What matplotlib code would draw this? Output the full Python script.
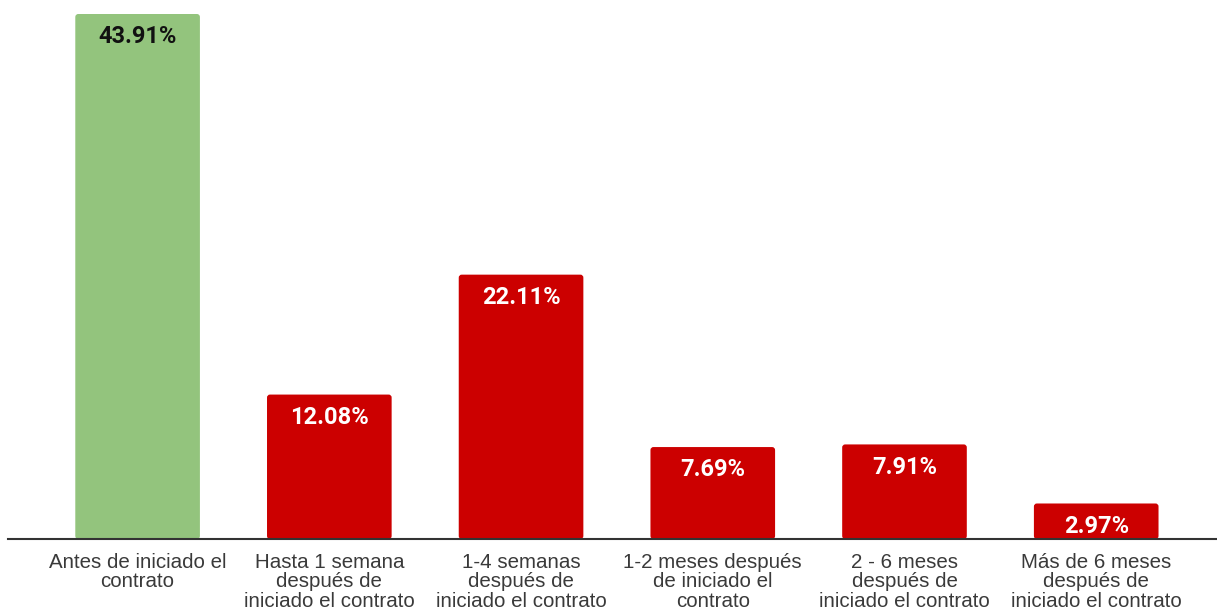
import matplotlib.pyplot as plt
from matplotlib.patches import FancyBboxPatch

categories = ['Antes de iniciado el\ncontrato',
              'Hasta 1 semana\ndespués de\niniciado el contrato',
              '1-4 semanas\ndespués de\niniciado el contrato',
              '1-2 meses después\nde iniciado el\ncontrato',
              '2 - 6 meses\ndespués de\niniciado el contrato',
              'Más de 6 meses\ndespués de\niniciado el contrato']
values = [43.91, 12.08, 22.11, 7.69, 7.91, 2.97]
colors = ['#93c47d', '#cc0000', '#cc0000', '#cc0000', '#cc0000', '#cc0000']
label_colors = ['#111111', 'white', 'white', 'white', 'white', 'white']

fig = plt.figure(figsize=(12.17, 6.10), dpi=100)
ax = fig.add_axes([8 / 1217, 71 / 610, 1 - 8 / 1217, 539 / 610])

x = list(range(len(values)))
bars = ax.bar(x, values, width=0.65, color=colors)

ax.set_xlim(-0.676, 5.63)
ax.set_ylim(0, 43.91 * 539 / 525)

# swap the plain rectangles for ones with slightly rounded corners
px_x = 1 / 191.7
px_y = ax.get_ylim()[1] / 539
for b in bars:
    rb = FancyBboxPatch((b.get_x(), b.get_y()), b.get_width(), b.get_height(),
                        boxstyle='round,pad=0,rounding_size=%f' % (3 * px_x),
                        mutation_aspect=px_y / px_x,
                        facecolor=b.get_facecolor(), edgecolor='none')
    b.set_visible(False)
    ax.add_patch(rb)

for xi, v, c in zip(x, values, label_colors):
    ax.annotate('%.2f%%' % v, (xi, v), xytext=(0, -8), textcoords='offset points',
                ha='center', va='top', fontsize=17, fontweight='bold',
                family='Roboto', color=c)

ax.set_xticks(x)
ax.set_xticklabels(categories, fontsize=14.8, family='Liberation Sans',
                   color='#3a3a3a', linespacing=1.03)
ax.tick_params(axis='x', length=0, pad=10)
ax.set_yticks([])
for side in ['top', 'right', 'left']:
    ax.spines[side].set_visible(False)
ax.spines['bottom'].set_color('#333333')
ax.spines['bottom'].set_linewidth(1.5)
ax.spines['bottom'].set_zorder(5)

fig.savefig('out.png', dpi=100)
